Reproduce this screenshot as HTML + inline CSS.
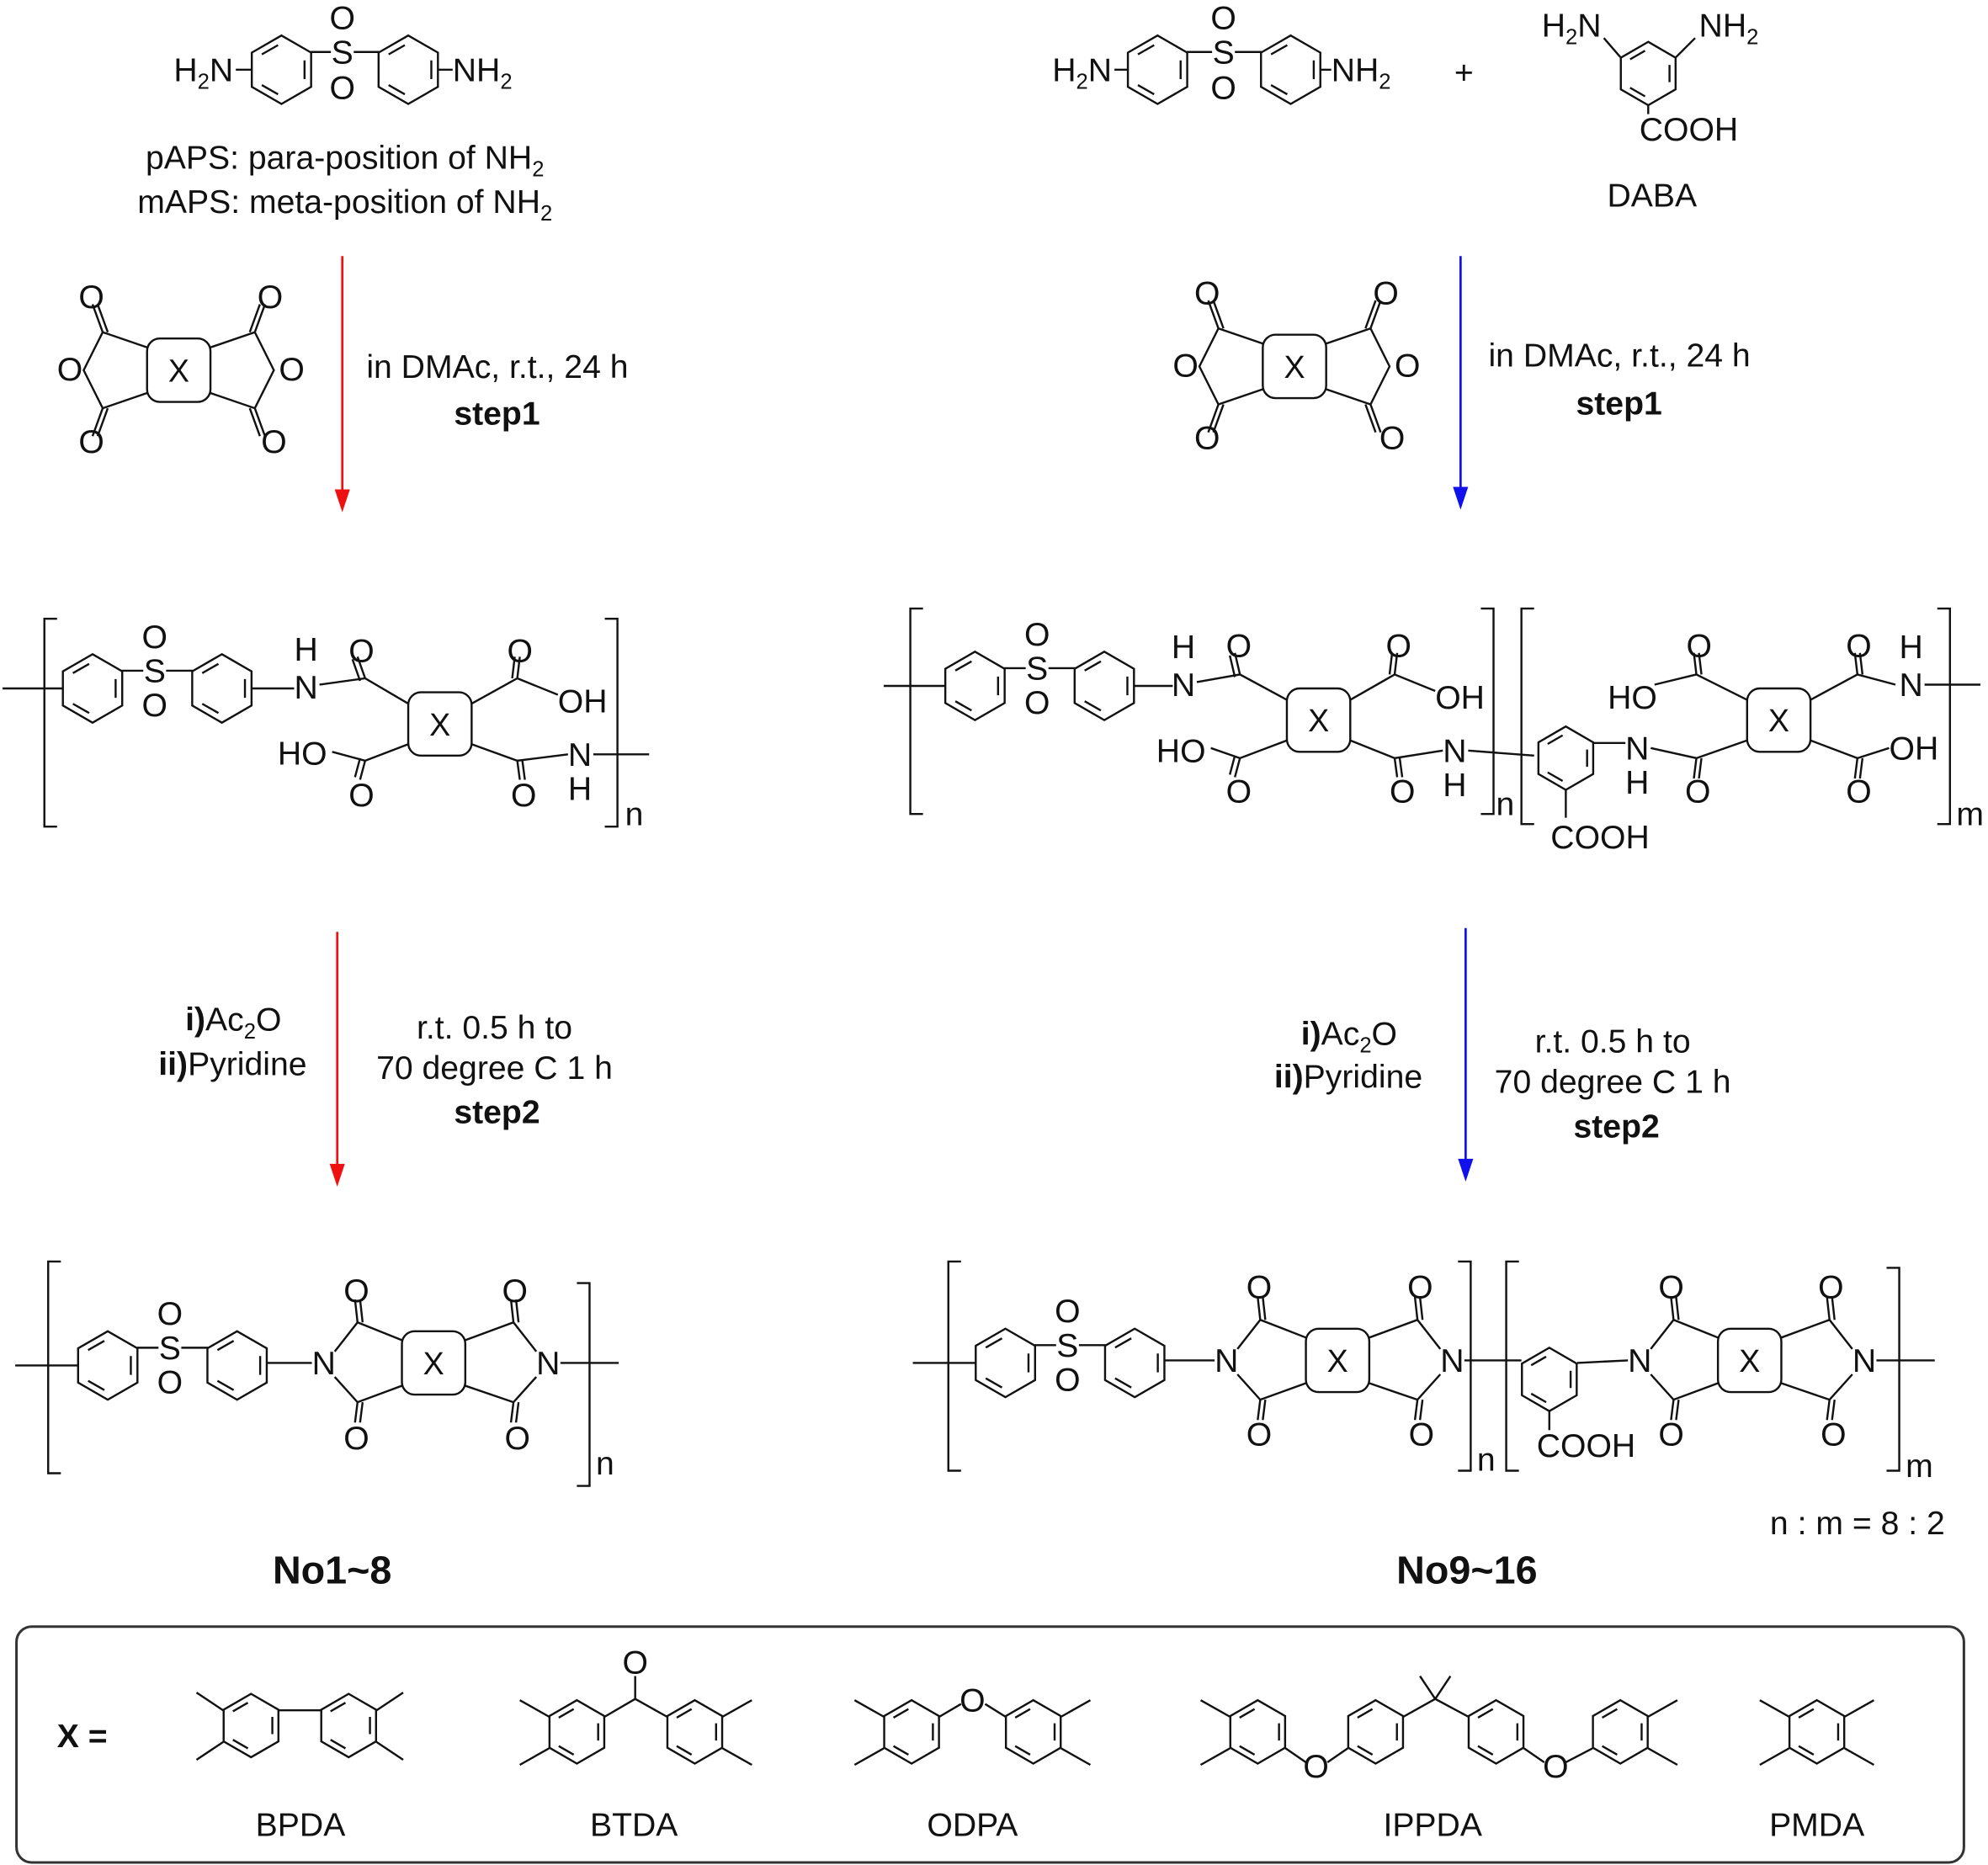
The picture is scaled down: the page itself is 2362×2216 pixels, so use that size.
<!DOCTYPE html>
<html><head><meta charset="utf-8"><style>
html,body{margin:0;padding:0;background:#fff}
svg{display:block}
text{font-family:"Liberation Sans",Arial,sans-serif;fill:#111}
</style></head><body>
<svg width="2362" height="2216" viewBox="0 0 1568 1471" preserveAspectRatio="none" xmlns="http://www.w3.org/2000/svg">
<defs>
<g id="hh" fill="none" stroke="#111" stroke-width="1.6"><polygon points="0,-27 23.4,-13.5 23.4,13.5 0,27 -23.4,13.5 -23.4,-13.5"/><path d="M-15.5,-12.1 L-2.7,-19.4 M18.2,-7.4 L18.2,7.4 M-15.5,12.1 L-2.7,19.4"/></g>
<g id="hv" fill="none" stroke="#111" stroke-width="1.6"><polygon points="0,-25 21.6,-12.5 21.6,12.5 0,25 -21.6,12.5 -21.6,-12.5"/><path d="M-14.3,-11.2 L-2.5,-18 M16.8,-6.8 L16.8,6.8 M-14.3,11.2 L-2.5,18"/></g>
<g id="xb"><rect x="-25" y="-25" width="50" height="50" rx="10" fill="none" stroke="#111" stroke-width="1.6"/><text x="0" y="9" font-size="25" text-anchor="middle">X</text></g>
<g id="anh" fill="none" stroke="#111" stroke-width="1.6">
<path d="M-25,-18 L-60,-30 L-75,0 L-60,30 L-25,18 M-60,-30 L-68,-52 M-56,-30 L-64,-52 M-60,30 L-68,52 M-56,30 L-64,52"/>
<path d="M25,-18 L60,-30 L75,0 L60,30 L25,18 M60,-30 L68,-52 M56,-30 L64,-52 M60,30 L68,52 M56,30 L64,52"/>
</g>
</defs>

<g font-size="26">
<!-- TOP LEFT -->
<text x="137" y="64">H<tspan font-size="17" dy="6">2</tspan><tspan dy="-6">N</tspan></text>
<line x1="186" y1="55" x2="199" y2="55" stroke="#111" stroke-width="1.6"/>
<use href="#hh" x="222" y="55"/>
<text x="270" y="50" text-anchor="middle">S</text>
<line x1="245" y1="41" x2="261" y2="41" stroke="#111" stroke-width="1.6"/><line x1="279" y1="41" x2="299" y2="41" stroke="#111" stroke-width="1.6"/>
<text x="270" y="23" text-anchor="middle">O</text><text x="270" y="78" text-anchor="middle">O</text>
<use href="#hh" x="322" y="55"/>
<line x1="345" y1="55" x2="357" y2="55" stroke="#111" stroke-width="1.6"/>
<text x="357" y="64">NH<tspan font-size="17" dy="6">2</tspan></text>
<text x="272" y="133" text-anchor="middle">pAPS: para-position of NH<tspan font-size="17" dy="6">2</tspan></text>
<text x="272" y="168" text-anchor="middle">mAPS: meta-position of NH<tspan font-size="17" dy="6">2</tspan></text>

<line x1="270" y1="202" x2="270" y2="390" stroke="#e11" stroke-width="1.8"/>
<path d="M264,386 L270,404 L276,386 Z" fill="#e11"/>
<use href="#xb" x="141" y="292"/><use href="#anh" x="141" y="292"/>
<text x="62" y="243">O</text><text x="203" y="243">O</text><text x="45" y="300">O</text><text x="220" y="300">O</text><text x="62" y="357">O</text><text x="206" y="357">O</text>
<text x="289" y="298">in DMAc, r.t., 24 h</text>
<text x="392" y="335" text-anchor="middle" font-weight="bold">step1</text>

<!-- TOP RIGHT -->
<text x="830" y="64">H<tspan font-size="17" dy="6">2</tspan><tspan dy="-6">N</tspan></text>
<use href="#hh" x="913" y="55"/>
<line x1="879" y1="55" x2="890" y2="55" stroke="#111" stroke-width="1.6"/>
<text x="965" y="50" text-anchor="middle">S</text>
<line x1="936" y1="41" x2="956" y2="41" stroke="#111" stroke-width="1.6"/><line x1="974" y1="41" x2="995" y2="41" stroke="#111" stroke-width="1.6"/>
<text x="965" y="23" text-anchor="middle">O</text><text x="965" y="78" text-anchor="middle">O</text>
<use href="#hh" x="1018" y="55"/>
<line x1="1041" y1="55" x2="1050" y2="55" stroke="#111" stroke-width="1.6"/>
<text x="1050" y="64">NH<tspan font-size="17" dy="6">2</tspan></text>
<text x="1147" y="66">+</text>
<use href="#hv" x="1300" y="58"/>
<line x1="1278" y1="45" x2="1265" y2="30" stroke="#111" stroke-width="1.6"/><line x1="1322" y1="45" x2="1337" y2="30" stroke="#111" stroke-width="1.6"/><line x1="1300" y1="83" x2="1300" y2="90" stroke="#111" stroke-width="1.6"/>
<text x="1216" y="29">H<tspan font-size="17" dy="6">2</tspan><tspan dy="-6">N</tspan></text>
<text x="1340" y="29">NH<tspan font-size="17" dy="6">2</tspan></text>
<text x="1293" y="111">COOH</text>
<text x="1303" y="163" text-anchor="middle">DABA</text>

<line x1="1152" y1="202" x2="1152" y2="388" stroke="#11e" stroke-width="1.8"/>
<path d="M1146,384 L1152,402 L1158,384 Z" fill="#11e"/>
<use href="#xb" x="1021" y="289"/><use href="#anh" x="1021" y="289"/>
<text x="942" y="240">O</text><text x="1083" y="240">O</text><text x="925" y="297">O</text><text x="1100" y="297">O</text><text x="942" y="354">O</text><text x="1088" y="354">O</text>
<text x="1174" y="289">in DMAc, r.t., 24 h</text>
<text x="1277" y="327" text-anchor="middle" font-weight="bold">step1</text>

<!-- MIDDLE LEFT -->
<path d="M45,488 L35,488 L35,652 L45,652 M477,488 L487,488 L487,652 L477,652" fill="none" stroke="#111" stroke-width="1.6"/>
<text x="493" y="651">n</text>
<line x1="2" y1="543" x2="50" y2="543" stroke="#111" stroke-width="1.6"/>
<use href="#hh" x="73" y="543"/>
<text x="122" y="538" text-anchor="middle">S</text><text x="122" y="511" text-anchor="middle">O</text><text x="122" y="565" text-anchor="middle">O</text>
<line x1="96" y1="529" x2="113" y2="529" stroke="#111" stroke-width="1.6"/><line x1="131" y1="529" x2="152" y2="529" stroke="#111" stroke-width="1.6"/>
<use href="#hh" x="175" y="543"/>
<line x1="198" y1="543" x2="232" y2="543" stroke="#111" stroke-width="1.6"/>
<text x="232" y="551">N</text><text x="232" y="521">H</text>
<use href="#xb" x="347" y="571"/>
<path d="M252,540 L288,535 L322,555 M288,535 L282,518 M284,537 L278,520 M372,555 L408,535 L440,548 M408,535 L410,518 M404,535 L406,518 M322,587 L288,600 L262,593 M288,600 L284,615 M284,598 L280,613 M372,587 L408,600 L448,595 M408,600 L410,615 M412,600 L414,615 M468,595 L512,595" fill="none" stroke="#111" stroke-width="1.6"/>
<text x="275" y="522">O</text><text x="400" y="522">O</text><text x="440" y="562">OH</text>
<text x="219" y="603">HO</text><text x="275" y="636">O</text><text x="403" y="636">O</text>
<text x="448" y="604">N</text><text x="448" y="631">H</text>

<!-- MIDDLE RIGHT -->
<path d="M728,480 L718,480 L718,642 L728,642 M1168,480 L1178,480 L1178,642 L1168,642" fill="none" stroke="#111" stroke-width="1.6"/>
<path d="M1210,480 L1200,480 L1200,650 L1210,650 M1528,480 L1538,480 L1538,650 L1528,650" fill="none" stroke="#111" stroke-width="1.6"/>
<text x="1180" y="643">n</text><text x="1543" y="651">m</text>
<line x1="697" y1="541" x2="746" y2="541" stroke="#111" stroke-width="1.6"/>
<use href="#hh" x="769" y="541"/>
<text x="818" y="536" text-anchor="middle">S</text><text x="818" y="509" text-anchor="middle">O</text><text x="818" y="563" text-anchor="middle">O</text>
<line x1="792" y1="527" x2="809" y2="527" stroke="#111" stroke-width="1.6"/><line x1="827" y1="527" x2="848" y2="527" stroke="#111" stroke-width="1.6"/>
<use href="#hh" x="871" y="541"/>
<line x1="894" y1="541" x2="925" y2="541" stroke="#111" stroke-width="1.6"/>
<text x="924" y="549">N</text><text x="924" y="519">H</text>
<use href="#xb" x="1040" y="568"/>
<path d="M944,538 L978,532 L1015,552 M978,532 L974,515 M974,534 L970,517 M1065,552 L1100,532 L1132,545 M1100,532 L1102,515 M1096,532 L1098,515 M1015,584 L978,598 L955,590 M978,598 L974,613 M974,596 L970,611 M1065,584 L1100,598 L1138,592 M1100,598 L1102,613 M1104,598 L1106,613 M1158,592 L1210,596" fill="none" stroke="#111" stroke-width="1.6"/>
<text x="967" y="518">O</text><text x="1093" y="518">O</text><text x="1132" y="559">OH</text>
<text x="912" y="601">HO</text><text x="967" y="633">O</text><text x="1096" y="633">O</text>
<text x="1138" y="601">N</text><text x="1138" y="628">H</text>
<use href="#hv" x="1235" y="598"/>
<line x1="1235" y1="623" x2="1235" y2="645" stroke="#111" stroke-width="1.6"/>
<text x="1223" y="669">COOH</text>
<line x1="1257" y1="586" x2="1282" y2="586" stroke="#111" stroke-width="1.6"/>
<text x="1282" y="599">N</text><text x="1282" y="626">H</text>
<use href="#xb" x="1403" y="568"/>
<path d="M1302,590 L1338,598 L1378,584 M1338,598 L1336,614 M1342,598 L1340,614 M1378,552 L1338,532 L1305,540 M1338,532 L1336,515 M1342,532 L1340,515 M1428,552 L1465,532 L1495,540 M1465,532 L1463,515 M1469,532 L1467,515 M1428,584 L1465,598 L1490,590 M1465,598 L1463,614 M1469,598 L1467,614 M1518,540 L1562,540" fill="none" stroke="#111" stroke-width="1.6"/>
<text x="1330" y="518">O</text><text x="1268" y="559">HO</text><text x="1329" y="633">O</text>
<text x="1456" y="518">O</text><text x="1498" y="549">N</text><text x="1498" y="519">H</text>
<text x="1490" y="599">OH</text><text x="1456" y="633">O</text>

<!-- step2 -->
<line x1="266" y1="735" x2="266" y2="922" stroke="#e11" stroke-width="1.8"/>
<path d="M260,918 L266,936 L272,918 Z" fill="#e11"/>
<text x="222" y="813" text-anchor="end"><tspan font-weight="bold">i)</tspan>Ac<tspan font-size="17" dy="6">2</tspan><tspan dy="-6">O</tspan></text>
<text x="242" y="848" text-anchor="end"><tspan font-weight="bold">ii)</tspan>Pyridine</text>
<text x="390" y="819" text-anchor="middle">r.t. 0.5 h to</text>
<text x="390" y="851" text-anchor="middle">70 degree C 1 h</text>
<text x="392" y="886" text-anchor="middle" font-weight="bold">step2</text>

<line x1="1156" y1="732" x2="1156" y2="918" stroke="#11e" stroke-width="1.8"/>
<path d="M1150,914 L1156,932 L1162,914 Z" fill="#11e"/>
<text x="1102" y="824" text-anchor="end"><tspan font-weight="bold">i)</tspan>Ac<tspan font-size="17" dy="6">2</tspan><tspan dy="-6">O</tspan></text>
<text x="1122" y="858" text-anchor="end"><tspan font-weight="bold">ii)</tspan>Pyridine</text>
<text x="1272" y="830" text-anchor="middle">r.t. 0.5 h to</text>
<text x="1272" y="862" text-anchor="middle">70 degree C 1 h</text>
<text x="1275" y="897" text-anchor="middle" font-weight="bold">step2</text>

<!-- BOTTOM LEFT -->
<path d="M48,995 L38,995 L38,1162 L48,1162 M455,1012 L465,1012 L465,1172 L455,1172" fill="none" stroke="#111" stroke-width="1.6"/>
<text x="470" y="1163">n</text>
<line x1="12" y1="1077" x2="62" y2="1077" stroke="#111" stroke-width="1.6"/>
<use href="#hh" x="85" y="1077"/>
<text x="134" y="1072" text-anchor="middle">S</text><text x="134" y="1045" text-anchor="middle">O</text><text x="134" y="1099" text-anchor="middle">O</text>
<line x1="108" y1="1063" x2="125" y2="1063" stroke="#111" stroke-width="1.6"/><line x1="143" y1="1063" x2="164" y2="1063" stroke="#111" stroke-width="1.6"/>
<use href="#hh" x="187" y="1077"/>
<line x1="210" y1="1075" x2="246" y2="1075" stroke="#111" stroke-width="1.6"/>
<text x="246" y="1084">N</text>
<use href="#xb" x="342" y="1075"/>
<path d="M264,1066 L282,1043 L317,1057 M264,1086 L282,1106 L317,1093 M282,1043 L280,1025 M286,1043 L284,1025 M282,1106 L280,1122 M286,1106 L284,1122 M367,1057 L405,1043 L423,1066 M367,1093 L405,1106 L423,1086 M405,1043 L403,1025 M409,1043 L407,1025 M405,1106 L403,1122 M409,1106 L407,1122 M442,1075 L488,1075" fill="none" stroke="#111" stroke-width="1.6"/>
<text x="271" y="1027">O</text><text x="271" y="1143">O</text><text x="396" y="1027">O</text><text x="398" y="1143">O</text>
<text x="423" y="1084">N</text>

<!-- BOTTOM RIGHT -->
<path d="M758,995 L748,995 L748,1160 L758,1160 M1150,995 L1160,995 L1160,1160 L1150,1160" fill="none" stroke="#111" stroke-width="1.6"/>
<path d="M1198,995 L1188,995 L1188,1160 L1198,1160 M1488,1000 L1498,1000 L1498,1160 L1488,1160" fill="none" stroke="#111" stroke-width="1.6"/>
<text x="1165" y="1160">n</text><text x="1503" y="1165">m</text>
<line x1="720" y1="1075" x2="770" y2="1075" stroke="#111" stroke-width="1.6"/>
<use href="#hh" x="793" y="1075"/>
<text x="842" y="1070" text-anchor="middle">S</text><text x="842" y="1043" text-anchor="middle">O</text><text x="842" y="1097" text-anchor="middle">O</text>
<line x1="816" y1="1061" x2="833" y2="1061" stroke="#111" stroke-width="1.6"/><line x1="851" y1="1061" x2="872" y2="1061" stroke="#111" stroke-width="1.6"/>
<use href="#hh" x="895" y="1075"/>
<line x1="918" y1="1073" x2="958" y2="1073" stroke="#111" stroke-width="1.6"/>
<text x="958" y="1082">N</text>
<use href="#xb" x="1055" y="1073"/>
<path d="M976,1064 L994,1041 L1030,1055 M976,1084 L994,1104 L1030,1091 M994,1041 L992,1023 M998,1041 L996,1023 M994,1104 L992,1120 M998,1104 L996,1120 M1080,1055 L1118,1041 L1136,1064 M1080,1091 L1118,1104 L1136,1084 M1118,1041 L1116,1023 M1122,1041 L1120,1023 M1118,1104 L1116,1120 M1122,1104 L1120,1120 M1155,1073 L1200,1073" fill="none" stroke="#111" stroke-width="1.6"/>
<text x="983" y="1024">O</text><text x="983" y="1140">O</text><text x="1110" y="1024">O</text><text x="1111" y="1140">O</text>
<text x="1136" y="1082">N</text>
<use href="#hv" x="1222" y="1088"/>
<line x1="1222" y1="1113" x2="1222" y2="1128" stroke="#111" stroke-width="1.6"/>
<text x="1212" y="1149">COOH</text>
<line x1="1244" y1="1075" x2="1284" y2="1073" stroke="#111" stroke-width="1.6"/>
<text x="1284" y="1082">N</text>
<use href="#xb" x="1380" y="1073"/>
<path d="M1302,1064 L1320,1041 L1355,1055 M1302,1084 L1320,1104 L1355,1091 M1320,1041 L1318,1023 M1324,1041 L1322,1023 M1320,1104 L1318,1120 M1324,1104 L1322,1120 M1405,1055 L1443,1041 L1461,1064 M1405,1091 L1443,1104 L1461,1084 M1443,1041 L1441,1023 M1447,1041 L1445,1023 M1443,1104 L1441,1120 M1447,1104 L1445,1120 M1480,1073 L1526,1073" fill="none" stroke="#111" stroke-width="1.6"/>
<text x="1308" y="1024">O</text><text x="1308" y="1140">O</text><text x="1434" y="1024">O</text><text x="1436" y="1140">O</text>
<text x="1461" y="1082">N</text>

<text x="1465" y="1210" text-anchor="middle">n : m = 8 : 2</text>
<text x="262" y="1249" text-anchor="middle" font-size="31" font-weight="bold">No1~8</text>
<text x="1157" y="1249" text-anchor="middle" font-size="31" font-weight="bold">No9~16</text>

<!-- X box -->
<rect x="13" y="1283" width="1536" height="186" rx="12" fill="none" stroke="#333" stroke-width="2"/>
<text x="45" y="1378" font-weight="bold">X =</text>
<g fill="none" stroke="#111" stroke-width="1.6">
<use href="#hv" x="198" y="1361"/><use href="#hv" x="275" y="1361"/>
<path d="M220,1349 L253,1349 M176,1349 L155,1335 M176,1374 L155,1388 M297,1349 L318,1335 M297,1374 L318,1388"/>
<use href="#hv" x="455" y="1366"/><use href="#hv" x="548" y="1366"/>
<path d="M477,1354 L501,1340 L526,1354 M501,1340 L501,1322 M433,1354 L410,1341 M433,1379 L410,1392 M570,1354 L593,1341 M570,1379 L593,1392"/>
<use href="#hv" x="719" y="1366"/><use href="#hv" x="815" y="1366"/>
<path d="M741,1354 L758,1344 M777,1344 L793,1354 M697,1354 L674,1341 M697,1379 L674,1392 M837,1354 L860,1341 M837,1379 L860,1392"/>
<use href="#hv" x="992" y="1366"/><use href="#hv" x="1085" y="1366"/><use href="#hv" x="1180" y="1366"/><use href="#hv" x="1278" y="1366"/>
<path d="M970,1354 L947,1341 M970,1379 L947,1392 M1014,1379 L1030,1390 M1047,1390 L1063,1379 M1107,1354 L1132,1340 L1158,1354 M1132,1340 L1120,1322 M1132,1340 L1144,1322 M1202,1379 L1218,1390 M1235,1390 L1256,1379 M1300,1354 L1323,1341 M1300,1379 L1323,1392"/>
<use href="#hv" x="1433" y="1366"/>
<path d="M1411,1354 L1388,1341 M1411,1379 L1388,1392 M1455,1354 L1478,1341 M1455,1379 L1478,1392"/>
</g>
<text x="501" y="1320" text-anchor="middle">O</text>
<text x="767" y="1350" text-anchor="middle">O</text>
<text x="1038" y="1402" text-anchor="middle">O</text>
<text x="1227" y="1402" text-anchor="middle">O</text>
<text x="237" y="1448" text-anchor="middle">BPDA</text>
<text x="500" y="1448" text-anchor="middle">BTDA</text>
<text x="767" y="1448" text-anchor="middle">ODPA</text>
<text x="1130" y="1448" text-anchor="middle">IPPDA</text>
<text x="1433" y="1448" text-anchor="middle">PMDA</text>
</g>
</svg>
</body></html>
